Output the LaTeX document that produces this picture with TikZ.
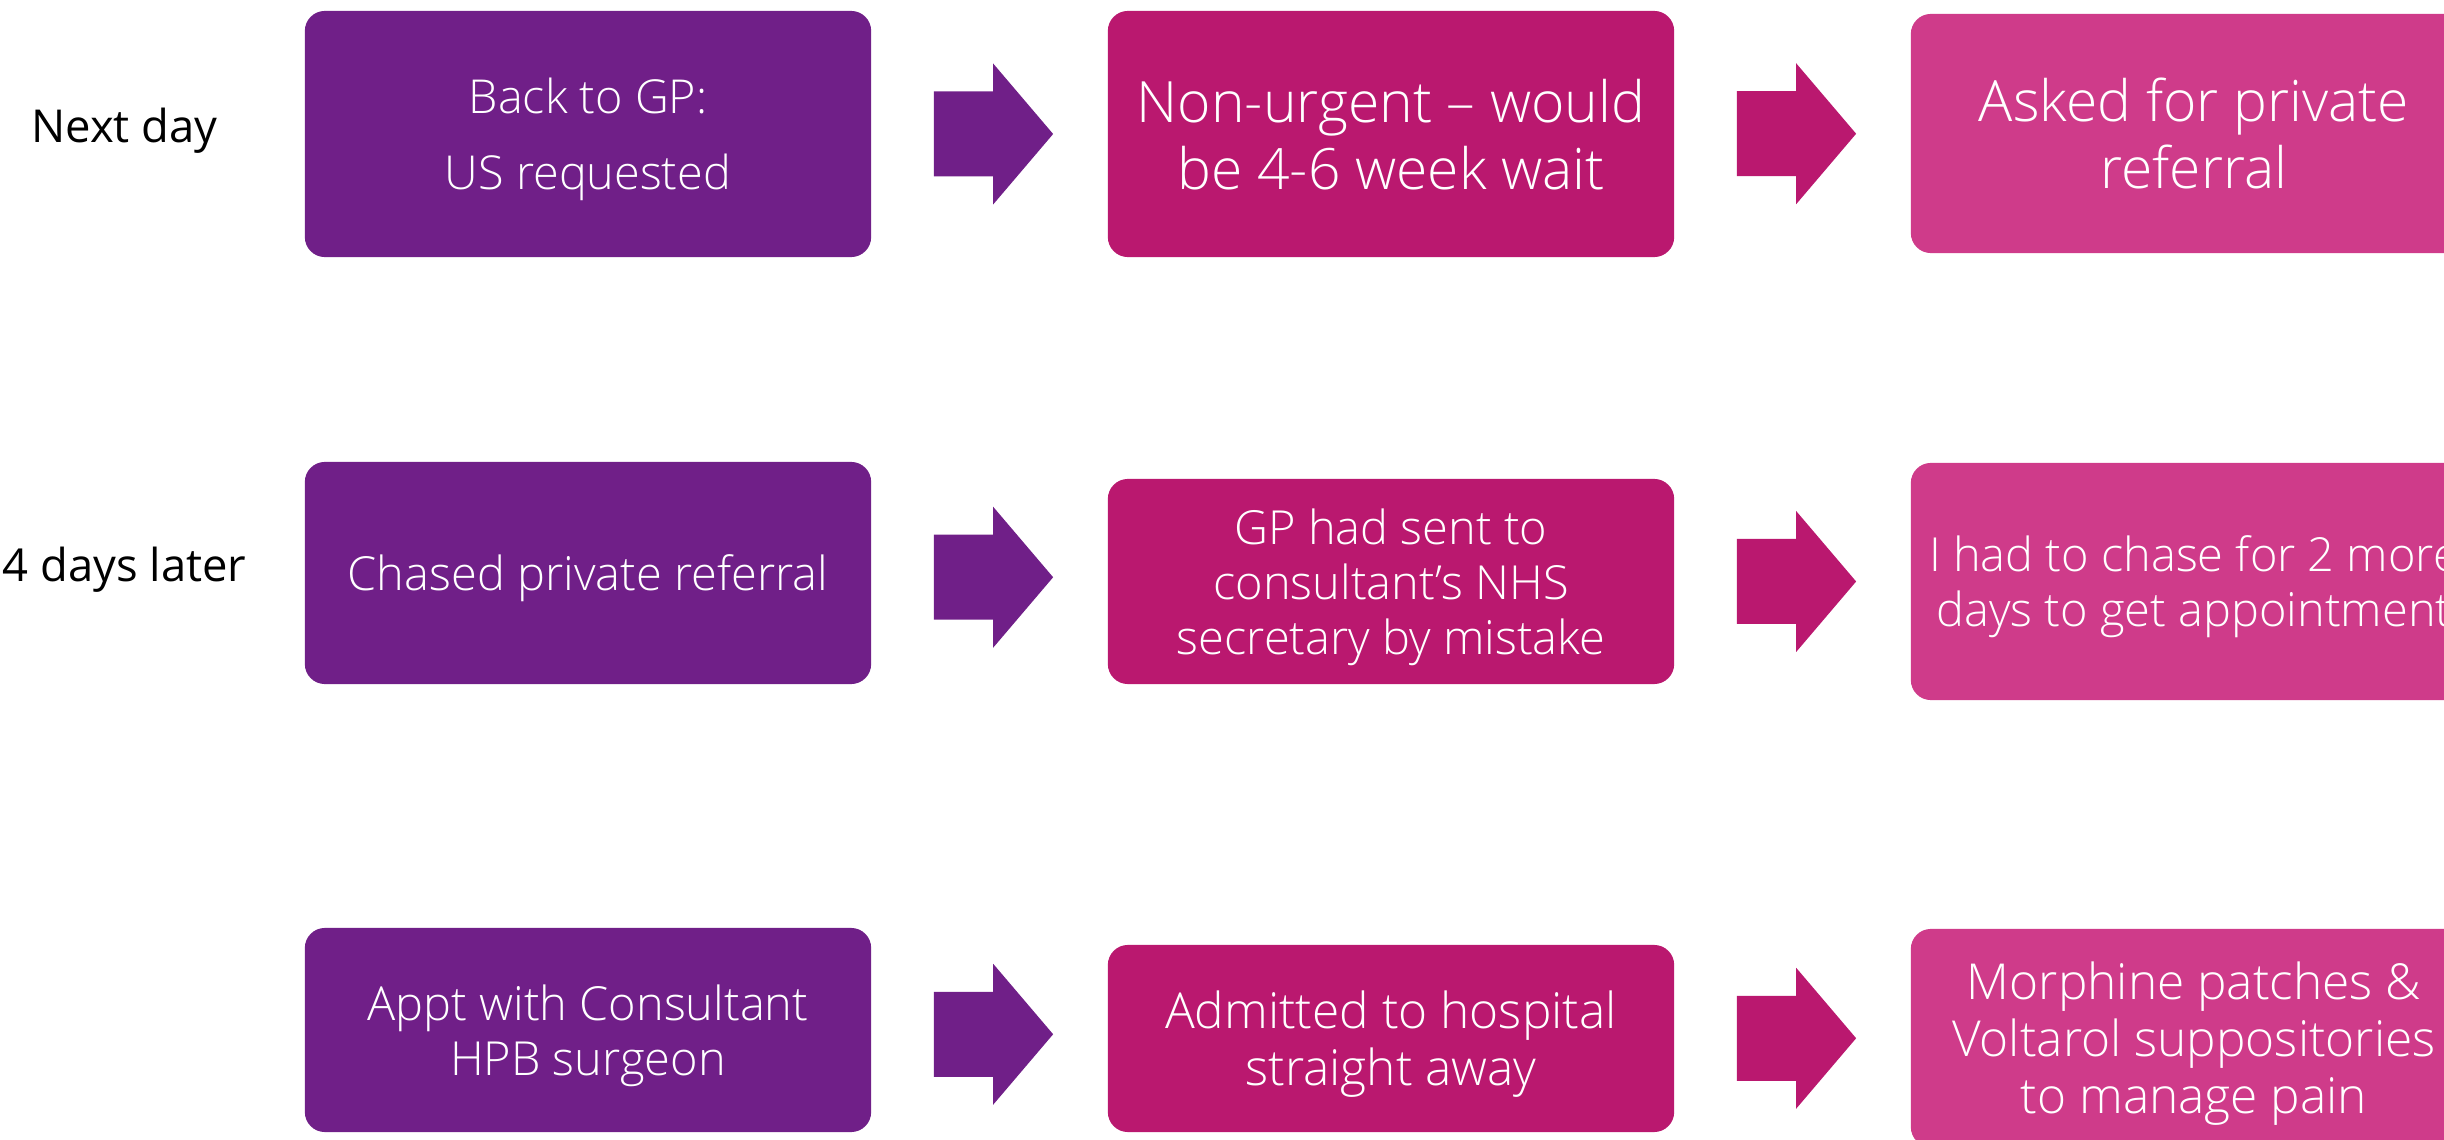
\documentclass[tikz,border=0pt]{standalone}
\usepackage{fontspec}
\setmainfont{Open Sans}
\newfontfamily\lightfont{Open Sans Light}
\usetikzlibrary{calc}
\definecolor{stepPurple}{RGB}{112,31,136}
\definecolor{stepMagenta}{RGB}{186,24,111}
\definecolor{stepPink}{RGB}{207,59,138}
\tikzset{card/.style = {rounded corners = 0.2cm, inner sep = 0, text = white,
                        align = center, text depth = 0pt, minimum width = 5.66cm}}
\tikzset{smalltext/.style = {font = \lightfont\fontsize{13.35}{15.65}\selectfont}}
\tikzset{midtext/.style = {font = \lightfont\fontsize{14.1}{16.2}\selectfont}}
\tikzset{bigtext/.style = {font = \lightfont\fontsize{16.2}{19.06}\selectfont}}
\tikzset{daytext/.style = {font = \fontsize{12.9}{15}\selectfont, inner sep = 0, anchor = base}}
% block arrow between two cards
\newcommand{\stepArrow}[3]{%
  \coordinate (mid) at ($(#1.center)!0.5!(#2.center)$);
  \coordinate (tail) at (#1.east |- mid);
  \coordinate (head) at (#2.west |- mid);
  \fill[#3] ($(tail)+(62,-42.5)$) -- ($(head)+(-114,-42.5)$) -- ($(head)+(-114,-70.5)$)
    -- ($(head)+(-54,0)$) -- ($(head)+(-114,70.5)$) -- ($(head)+(-114,42.5)$)
    -- ($(tail)+(62,42.5)$) -- cycle;}
\begin{document}
\begin{tikzpicture}[x=0.01cm, y=-0.01cm]
  \useasboundingbox (0,0) rectangle (2444,1140);
  \clip (0,0) rectangle (2444,1140);

  \node[daytext] (next) at (124.5,143) {Next day};
  \node[daytext] (later) at (124.5,582) {4 days later};

  % row 1
  \node[card, fill=stepPurple, minimum height=2.46cm,
        font=\lightfont\fontsize{13.3}{21.6}\selectfont] (b1) at (588,134) {Back to GP:\\US requested};
  \node[card, bigtext, fill=stepMagenta, minimum height=2.46cm] (b2) at (1391,134) {Non-urgent – would\\be 4-6 week wait};
  \node[card, bigtext, fill=stepPink, minimum height=2.39cm] (b3) at (2194,133.5) {Asked for private\\referral};

  % row 2
  \node[card, smalltext, fill=stepPurple, minimum height=2.22cm] (b4) at (588,573) {Chased private referral};
  \node[card, smalltext, fill=stepMagenta, minimum height=2.05cm] (b5) at (1391,581.5) {GP had sent to\\consultant’s NHS\\secretary by mistake};
  \node[card, smalltext, fill=stepPink, minimum height=2.37cm] (b6) at (2194,581.5) {I had to chase for 2 more\\days to get appointment};

  % row 3
  \node[card, smalltext, fill=stepPurple, minimum height=2.04cm] (b7) at (588,1030) {Appt with Consultant\\HPB surgeon};
  \node[card, midtext, fill=stepMagenta, minimum height=1.87cm] (b8) at (1391,1038.5) {Admitted to hospital\\straight away};
  \node[card, midtext, fill=stepPink, minimum height=2.18cm] (b9) at (2194,1038) {Morphine patches \&\\Voltarol suppositories\\to manage pain};

  \foreach \from/\to/\col in {b1/b2/stepPurple, b2/b3/stepMagenta,
                              b4/b5/stepPurple, b5/b6/stepMagenta,
                              b7/b8/stepPurple, b8/b9/stepMagenta}
    \stepArrow{\from}{\to}{\col};
\end{tikzpicture}
\end{document}
